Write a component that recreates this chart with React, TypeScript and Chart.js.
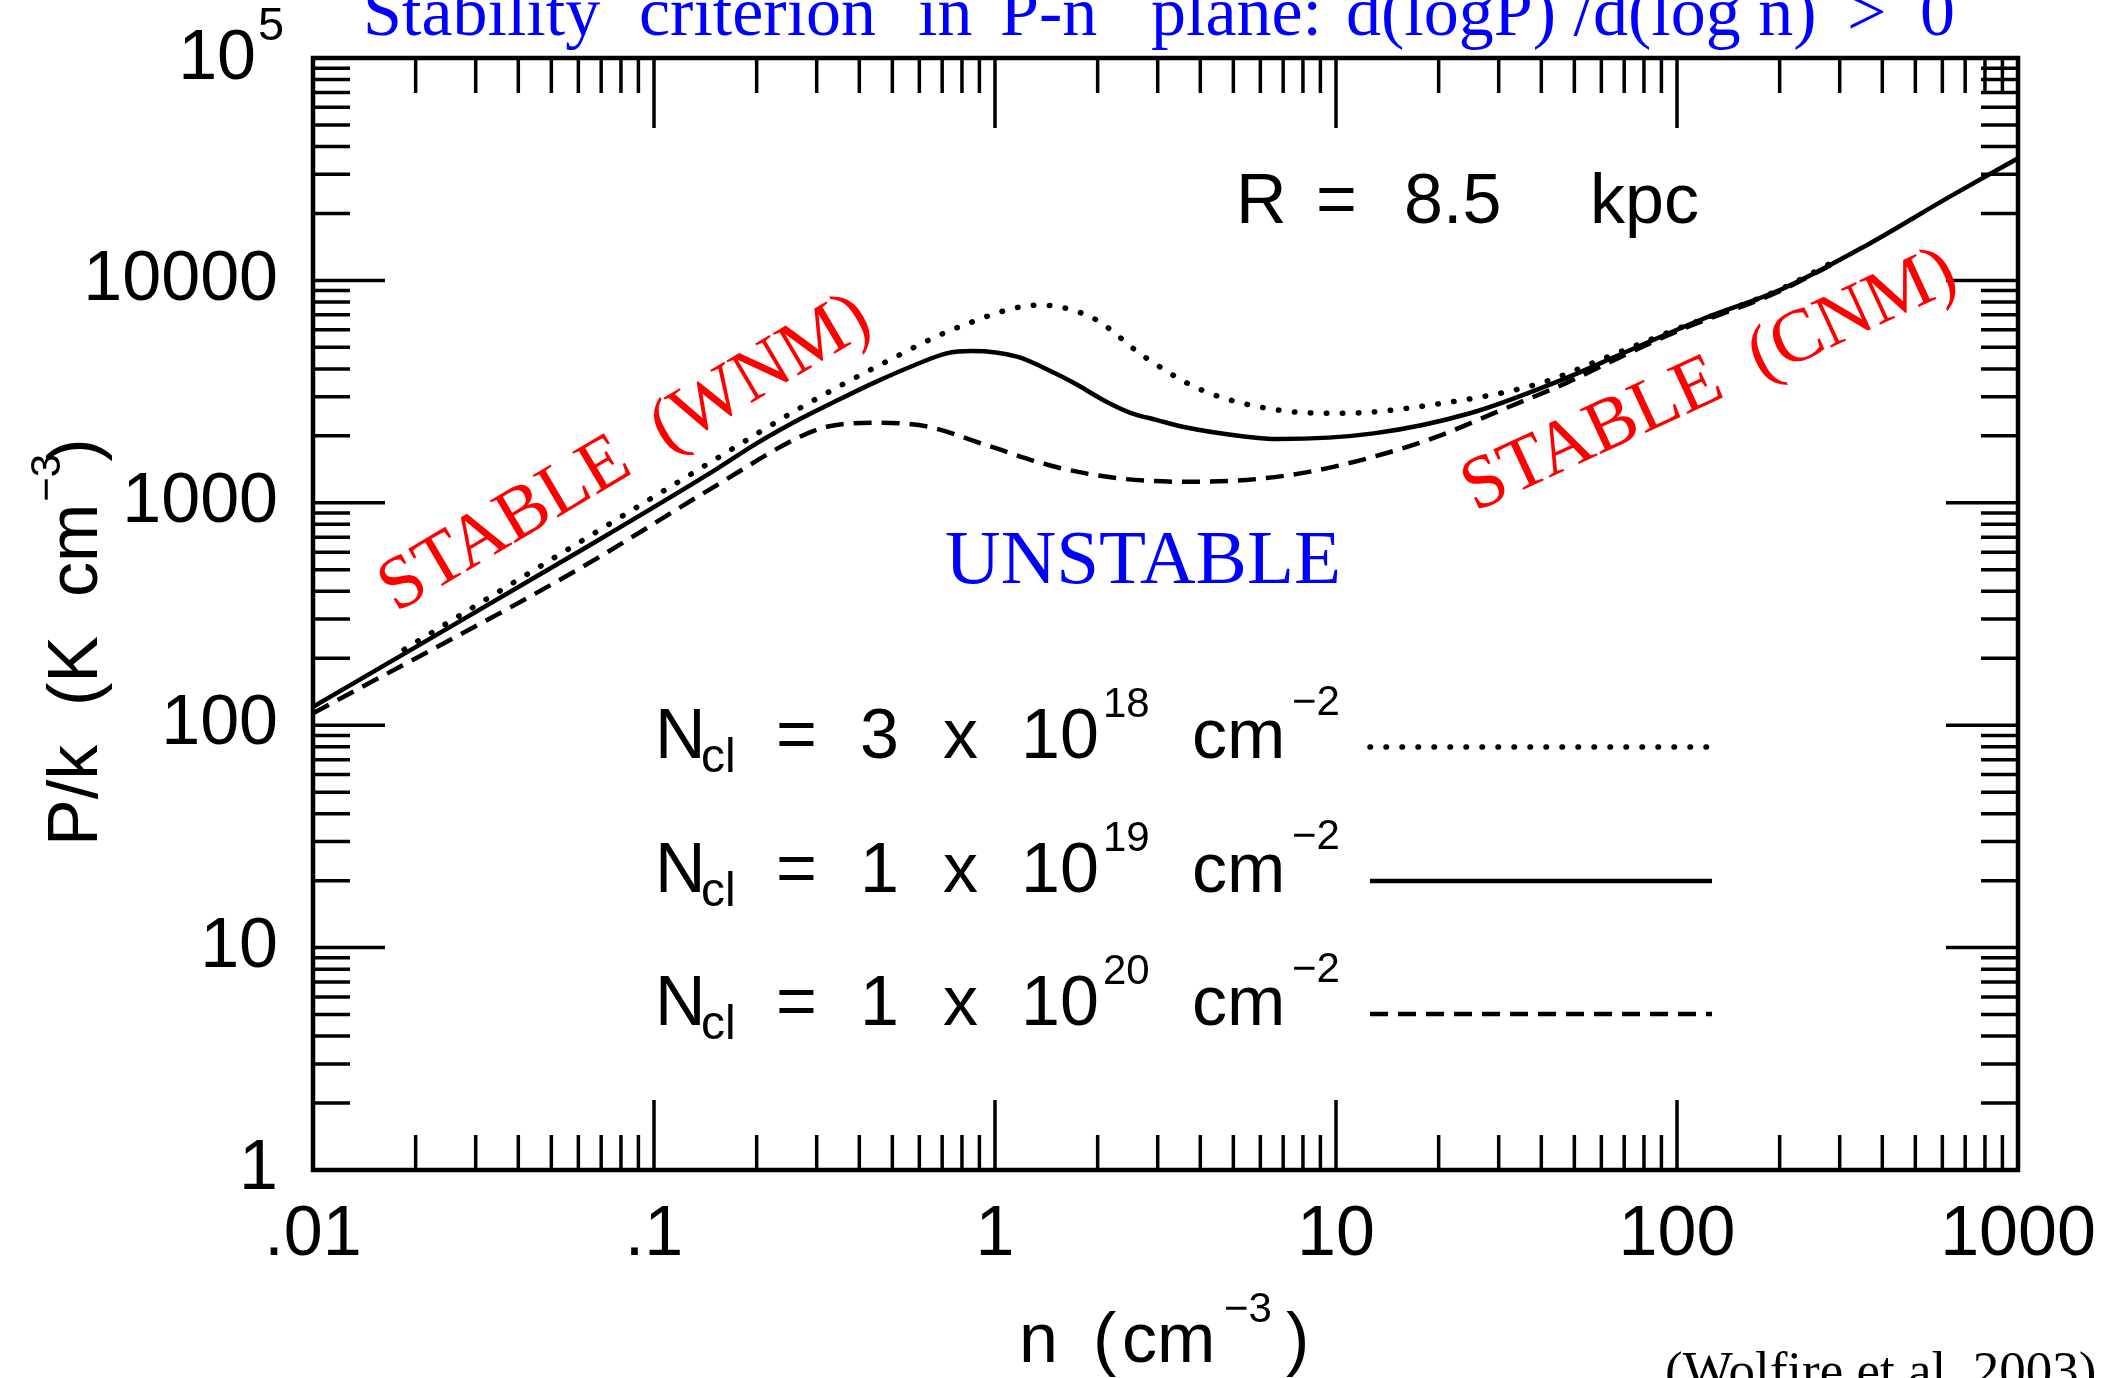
import React, { useEffect, useRef } from 'react';
import { Chart, registerables } from 'chart.js';

Chart.register(...registerables);

// ---- data (n in cm^-3, P/k in K cm^-3) ----
const nSolid = [0.01, 0.061, 0.15, 0.2, 0.268, 0.35, 0.449, 0.582, 0.721, 0.857, 1.16, 1.5, 1.71, 2.12, 2.52, 2.99, 3.55, 5.46, 6.76, 12.9, 24.7, 47.1, 69.4, 117, 205, 360, 631, 1000];
const pSolid = [121, 610, 1395, 1850, 2380, 2920, 3506, 4165, 4700, 4815, 4540, 3822, 3445, 2850, 2527, 2355, 2198, 1983, 1936, 2052, 2528, 3628, 4702, 6637, 9200, 14400, 23800, 35400];

const nDotted = [0.0185, 0.061, 0.15, 0.268, 0.47, 0.787, 1.35, 1.94, 2.74, 4.04, 6.76, 10.4, 19.8, 39.6, 59.4, 100, 200, 300];
const pDotted = [219, 670, 1556, 2667, 4240, 6190, 7745, 6760, 4540, 3213, 2612, 2527, 2780, 3444, 4386, 6050, 9100, 12550];

const nDashed = [0.01, 0.061, 0.15, 0.268, 0.321, 0.45, 0.634, 0.973, 1.5, 2.31, 3.55, 5.46, 8.4, 12.9, 19.8, 30.5, 47.1, 61, 100, 200, 300];
const pDashed = [113, 510, 1180, 1982, 2198, 2290, 2201, 1787, 1452, 1288, 1244, 1267, 1381, 1612, 1983, 2612, 3444, 4166, 5900, 8950, 12300];

const xTickValues = [0.01, 0.1, 1, 10, 100, 1000];
const xTickLabels = ['.01', '.1', '1', '10', '100', '1000'];
const yTickValues = [1, 10, 100, 1000, 10000];
const yTickLabels = ['1', '10', '100', '1000', '10000'];
const yTopValue = 100000;
const yTopBase = '10';
const yTopExp = '5';

const legendMantissa = ['3', '1', '1'];
const legendExponent = ['18', '19', '20'];
const legendStyles = ['dotted', 'solid', 'dashed'];

const titleWords = ['Stability', 'criterion', 'in', 'P-n', 'plane:', 'd(logP) /d(log n)', '>', '0'];

const SANS = '"Liberation Sans", Arial, sans-serif';
const SERIF = '"Liberation Serif", "Times New Roman", serif';

function styleLine(ctx: CanvasRenderingContext2D, kind: string) {
  ctx.strokeStyle = '#000';
  if (kind === 'dotted') {
    ctx.lineWidth = 5.5;
    ctx.lineCap = 'round';
    ctx.setLineDash([0.5, 15.5]);
  } else if (kind === 'dashed') {
    ctx.lineWidth = 4.5;
    ctx.lineCap = 'butt';
    ctx.setLineDash([18, 10]);
  } else {
    ctx.lineWidth = 4.5;
    ctx.lineCap = 'butt';
    ctx.setLineDash([]);
  }
}

const decorPlugin = {
  id: 'decor',
  beforeDraw(chart: any) {
    const ctx = chart.ctx as CanvasRenderingContext2D;
    ctx.save();
    ctx.fillStyle = '#fff';
    ctx.fillRect(0, 0, chart.width, chart.height);
    ctx.restore();
  },
  afterDraw(chart: any) {
    const ctx = chart.ctx as CanvasRenderingContext2D;
    const xs = chart.scales.x;
    const ys = chart.scales.y;
    const a = chart.chartArea;
    ctx.save();

    const seg = (x1: number, y1: number, x2: number, y2: number) => {
      ctx.beginPath();
      ctx.moveTo(x1, y1);
      ctx.lineTo(x2, y2);
      ctx.stroke();
    };

    // ticks
    ctx.strokeStyle = '#000';
    ctx.lineWidth = 3.5;
    ctx.lineCap = 'butt';
    ctx.setLineDash([]);
    for (let e = -2; e <= 2; e++) {
      for (let m = 1; m <= 9; m++) {
        const v = m * Math.pow(10, e);
        const px = xs.getPixelForValue(v);
        const len = m === 1 ? 70 : 35;
        seg(px, a.bottom, px, a.bottom - len);
        seg(px, a.top, px, a.top + len);
      }
    }
    for (let e = 0; e <= 4; e++) {
      for (let m = 1; m <= 9; m++) {
        const v = m * Math.pow(10, e);
        const py = ys.getPixelForValue(v);
        const len = m === 1 ? 72 : 37;
        seg(a.left, py, a.left + len, py);
        seg(a.right, py, a.right - len, py);
      }
    }

    // frame
    ctx.lineWidth = 4.5;
    ctx.strokeRect(a.left, a.top, a.right - a.left, a.bottom - a.top);

    // tick labels
    ctx.fillStyle = '#000';
    ctx.font = '70px ' + SANS;
    ctx.textAlign = 'center';
    ctx.textBaseline = 'middle';
    xTickValues.forEach((v, i) => {
      ctx.fillText(xTickLabels[i], xs.getPixelForValue(v), a.bottom + 66);
    });
    ctx.textAlign = 'right';
    yTickValues.forEach((v, i) => {
      ctx.fillText(yTickLabels[i], a.left - 35, ys.getPixelForValue(v));
    });
    const yTop = ys.getPixelForValue(yTopValue);
    ctx.fillText(yTopBase, a.left - 57, yTop + 2);
    ctx.textAlign = 'left';
    ctx.textBaseline = 'alphabetic';
    ctx.font = '47px ' + SANS;
    ctx.fillText(yTopExp, a.left - 55, yTop - 18);

    // x title
    ctx.font = '70px ' + SANS;
    ctx.fillText('n', 1019, 1362);
    ctx.fillText('(', 1093, 1362);
    ctx.fillText('cm', 1122, 1362);
    ctx.fillText(')', 1286, 1362);
    ctx.font = '42px ' + SANS;
    ctx.fillText('\u22123', 1224, 1322);

    // y title (rotated)
    ctx.save();
    ctx.translate(97, 846);
    ctx.rotate(-Math.PI / 2);
    ctx.font = '70px ' + SANS;
    const sp = ctx.measureText(' ').width;
    let off = 0;
    ctx.fillText('P/k', off, 0);
    off += ctx.measureText('P/k').width + 2 * sp;
    ctx.fillText('(K', off, 0);
    off += ctx.measureText('(K').width + 2 * sp;
    ctx.fillText('cm', off, 0);
    off += ctx.measureText('cm').width + 2;
    ctx.font = '42px ' + SANS;
    ctx.fillText('\u22123', off, -37);
    off += ctx.measureText('\u22123').width - 8;
    ctx.font = '70px ' + SANS;
    ctx.fillText(')', off, 0);
    ctx.restore();

    // title
    ctx.fillStyle = '#0000ff';
    ctx.font = '70px ' + SERIF;
    const titleX = [363, 639, 918, 1000, 1151, 1346, 1847, 1920];
    titleWords.forEach((w, i) => ctx.fillText(w, titleX[i], 35));

    // UNSTABLE
    ctx.textAlign = 'center';
    ctx.font = '77px ' + SERIF;
    ctx.fillText('UNSTABLE', 1143, 583);

    // R = 8.5 kpc
    ctx.fillStyle = '#000';
    ctx.textAlign = 'left';
    ctx.font = '70px ' + SANS;
    ctx.fillText('R', 1236, 223);
    ctx.fillText('=', 1316, 223);
    ctx.fillText('8.5', 1404, 223);
    ctx.fillText('kpc', 1590, 223);

    // Wolfire reference
    ctx.font = '53px ' + SERIF;
    ctx.fillText('(Wolfire et al. 2003)', 1665, 1388);

    // red stable labels
    ctx.fillStyle = '#ff0000';
    ctx.font = '75px ' + SERIF;
    ctx.save();
    ctx.translate(396, 613);
    ctx.rotate(-30.6 * Math.PI / 180);
    ctx.fillText('STABLE  (WNM)', 0, 0);
    ctx.restore();
    ctx.save();
    ctx.translate(1475, 512);
    ctx.rotate(-24.8 * Math.PI / 180);
    ctx.fillText('STABLE  (CNM)', 0, 0);
    ctx.restore();

    // legend
    const baselines = [758, 892, 1025];
    ctx.fillStyle = '#000';
    legendMantissa.forEach((mant, i) => {
      const b = baselines[i];
      ctx.font = '70px ' + SANS;
      ctx.fillText('N', 655, b);
      ctx.fillText('=', 776, b);
      ctx.fillText(mant, 860, b);
      ctx.fillText('x', 943, b);
      ctx.fillText('10', 1021, b);
      ctx.fillText('cm', 1192, b);
      ctx.font = '48px ' + SANS;
      ctx.fillText('cl', 701, b + 14);
      ctx.font = '42px ' + SANS;
      ctx.fillText(legendExponent[i], 1103, b - 41);
      ctx.fillText('\u22122', 1292, b - 43);
      ctx.save();
      styleLine(ctx, legendStyles[i]);
      const ly = b - 11;
      seg(1370, ly, 1712, ly);
      ctx.restore();
    });

    ctx.restore();
  },
};

function makeData(ns: number[], ps: number[]) {
  return ns.map((n, i) => ({ x: n, y: ps[i] }));
}

export default function App() {
  const ref = useRef<HTMLCanvasElement | null>(null);
  useEffect(() => {
    document.body.style.margin = '0';
    const canvas = ref.current;
    if (!canvas) return;
    const common = {
      pointRadius: 0,
      fill: false,
      borderColor: '#000',
      cubicInterpolationMode: 'monotone' as const,
    };
    const chart = new Chart(canvas, {
      type: 'line',
      data: {
        datasets: [
          { ...common, label: 'N_cl = 3e18', data: makeData(nDotted, pDotted), borderWidth: 5.5, borderDash: [0.5, 15.5], borderCapStyle: 'round' },
          { ...common, label: 'N_cl = 1e19', data: makeData(nSolid, pSolid), borderWidth: 4.5 },
          { ...common, label: 'N_cl = 1e20', data: makeData(nDashed, pDashed), borderWidth: 4.5, borderDash: [18, 10] },
        ],
      },
      options: {
        responsive: false,
        animation: false,
        devicePixelRatio: 1,
        layout: { padding: { left: 313, right: 93, top: 58, bottom: 208 } },
        plugins: { legend: { display: false }, tooltip: { enabled: false }, title: { display: false } },
        scales: {
          x: { type: 'logarithmic', min: 0.01, max: 1000, display: false },
          y: { type: 'logarithmic', min: 1, max: 100000, display: false },
        },
      },
      plugins: [decorPlugin],
    });
    return () => chart.destroy();
  }, []);
  return (
    <div style={{ position: 'absolute', left: 0, top: 0, width: 2111, height: 1378 }}>
      <canvas ref={ref} width={2111} height={1378} style={{ display: 'block', width: 2111, height: 1378 }} />
    </div>
  );
}
